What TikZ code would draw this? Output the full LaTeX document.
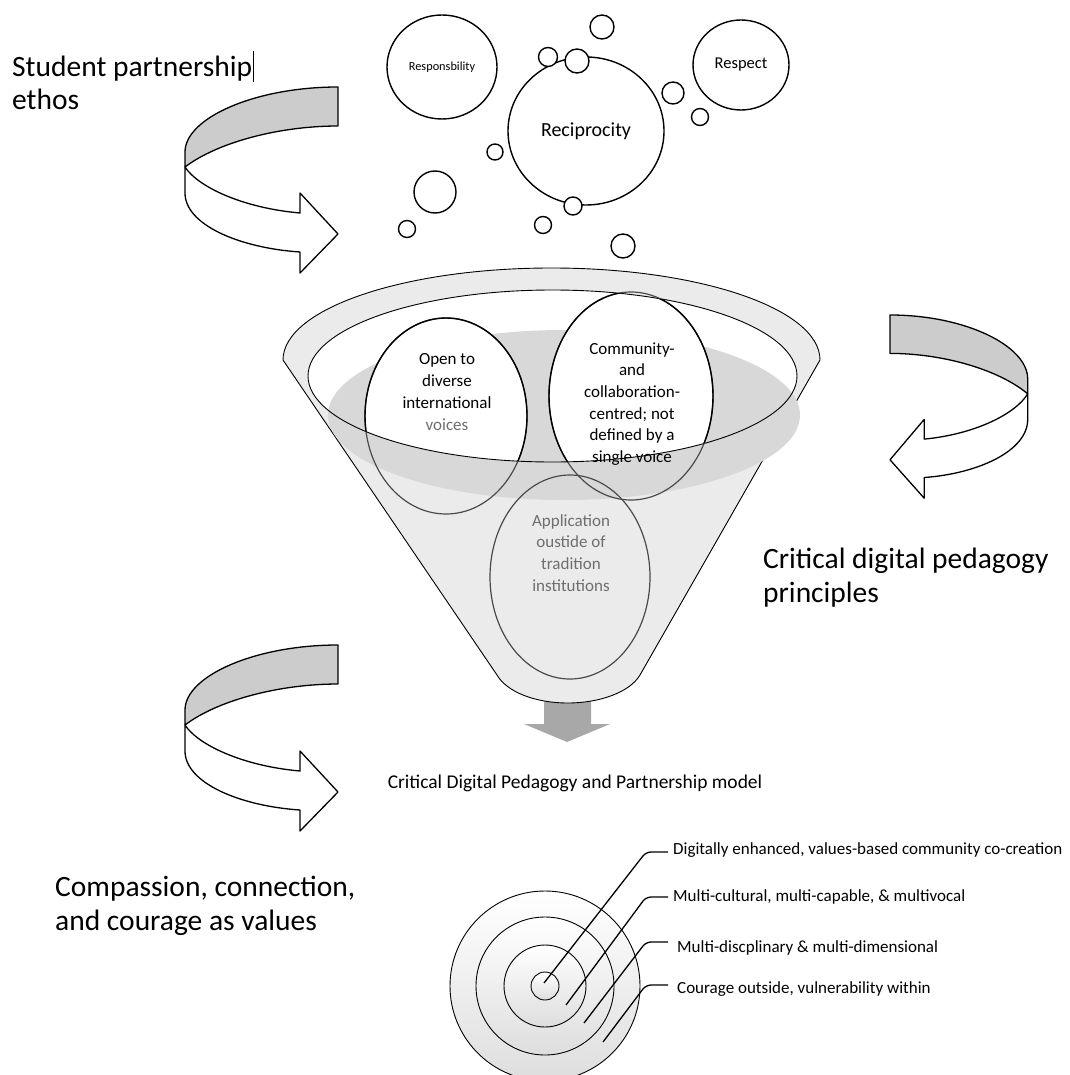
\documentclass[tikz,border=0pt]{standalone}
\usepackage{fontspec}
\setmainfont{Carlito}
\usetikzlibrary{calc,shapes.geometric}
\definecolor{conegray}{HTML}{EBEBEB}
\definecolor{darkell}{HTML}{D8D8D8}
\definecolor{ribbongray}{HTML}{CCCCCC}
\definecolor{arrowgray}{HTML}{A8A8A8}
\definecolor{txtgray}{HTML}{6E6E6E}
\definecolor{linegray}{HTML}{4A4A4A}
\begin{document}
\begin{tikzpicture}[x=1pt,y=-1pt,line join=round,
  bigtext/.style={anchor=base west,align=left,inner sep=0pt,font=\fontsize{29.5}{33.5}\selectfont},
  bub/.style={ellipse,draw,line width=1.4pt,fill=white,inner sep=0pt},
  sbub/.style={circle,draw,line width=1.4pt,fill=white,inner sep=0pt},
  lbl/.style={anchor=west,inner sep=0pt,font=\fontsize{17}{19}\selectfont},
  leader/.style={line width=1.3pt,rounded corners=5pt},
  ctext/.style={align=center,inner sep=0pt,font=\fontsize{17}{21.7}\selectfont},
  ring/.style={circle,draw,line width=0.9pt,inner sep=0pt,top color=white,bottom color=black!13},
  ribbon/.pic={
    \draw[fill=ribbongray,line width=1.3pt] (0,0) .. controls (-83,0) and (-153,31) .. (-153,65)
      -- (-153,80) .. controls (-120,55) and (-58,39) .. (0,39) -- cycle;
    \draw[fill=white,line width=1.3pt] (-153,80) -- (-153,106)
      .. controls (-153,138) and (-98,161) .. (-38,165) -- (-38,186) -- (0,147) -- (-38,106) -- (-38,126)
      .. controls (-95,121) and (-140,100) .. (-153,80) -- cycle;
  }]
\useasboundingbox (0,0) rectangle (1069,1075);
\clip (0,0) rectangle (1069,1075);

% ribbon arrows
\begin{scope}[shift={(338,87)}] \pic[transform shape] {ribbon}; \end{scope}
\begin{scope}[shift={(890,315)},xscale=-0.9,yscale=0.985] \pic[transform shape] {ribbon}; \end{scope}
\begin{scope}[shift={(338,645)}] \pic[transform shape] {ribbon}; \end{scope}

% side texts (anchor = baseline of last line)
\node[bigtext] (t1) at (12,110) {Student partnership\kern0.5pt\rule[-6pt]{1.4pt}{31pt}\\ethos};
\node[bigtext] (t2) at (763,602) {Critical digital pedagogy\\principles};
\node[bigtext] (t3) at (55,930) {Compassion, connection,\\and courage as values};

% output arrow
\fill[arrowgray] (544,698) -- (591,698) -- (591,724) -- (610,724) -- (567,742) -- (524,724) -- (544,724) -- cycle;

% funnel body
\draw[fill=conegray,line width=0.9pt] (283,360) -- (497,675)
  .. controls (507,692) and (535,703) .. (568,703)
  .. controls (600,703) and (630,692) .. (640,675) -- (820,360)
  .. controls (820,309) and (700,268) .. (551.5,268)
  .. controls (403,268) and (283,309) .. (283,360) -- cycle;
% inner opening
\fill[white] (552.5,376) ellipse [x radius=244.5,y radius=86];
\fill[darkell] (564,415) ellipse [x radius=236,y radius=85];
\begin{scope}
  \clip (552.5,376) ellipse [x radius=244.5,y radius=86];
  \fill[white] (446,416) ellipse [x radius=81,y radius=98];
  \fill[white] (631,396) ellipse [x radius=82,y radius=104];
\end{scope}
\draw[line width=0.9pt] (552.5,376) ellipse [x radius=244.5,y radius=86];
% circle outlines
\draw[linegray,line width=1.2pt] (446,416) ellipse [x radius=81,y radius=98];
\draw[linegray,line width=1.2pt] (631,396) ellipse [x radius=82,y radius=104];
\begin{scope}
  \clip (552.5,376) ellipse [x radius=244.5,y radius=86];
  \draw[black,line width=1.4pt] (446,416) ellipse [x radius=81,y radius=98];
  \draw[black,line width=1.4pt] (631,396) ellipse [x radius=82,y radius=104];
\end{scope}
\draw[linegray,line width=1.2pt] (570,577) ellipse [x radius=80,y radius=102];

\node[ctext] (c1) at (447,392) {Open to\\diverse\\international\\\textcolor{txtgray}{voices}};
\node[ctext] (c2) at (632,404) {Community-\\and\\collaboration-\\centred; not\\defined by a\\single voice};
\node[ctext,text=txtgray] (c3) at (571,553) {Application\\oustide of\\tradition\\institutions};

\node[font=\fontsize{19.5}{22}\selectfont] (model) at (575,783) {Critical Digital Pedagogy and Partnership model};

% top bubbles
\node[bub,minimum width=110pt,minimum height=104pt,font=\fontsize{12.3}{14}\selectfont] (resp) at (442,67) {Responsbility};
\node[bub,minimum width=156pt,minimum height=148pt,font=\fontsize{20}{23}\selectfont] (recip) at (586,131) {Reciprocity};
\node[bub,minimum width=96pt,minimum height=90pt,font=\fontsize{16.5}{19}\selectfont] (respect) at (741,65) {Respect};
\node[sbub,minimum size=24pt] (s1) at (602,27) {};
\node[sbub,minimum size=19pt] (s2) at (548,57) {};
\node[sbub,minimum size=24pt] (s3) at (577,61) {};
\node[sbub,minimum size=22pt] (s4) at (673,93) {};
\node[sbub,minimum size=17pt] (s5) at (700,117) {};
\node[sbub,minimum size=16pt] (s6) at (495,152) {};
\node[sbub,minimum size=42pt] (s7) at (435,192) {};
\node[sbub,minimum size=17pt] (s8) at (407,229) {};
\node[sbub,minimum size=18pt] (s9) at (573,206) {};
\node[sbub,minimum size=17pt] (s10) at (543,225) {};
\node[sbub,minimum size=24pt] (s11) at (623,246) {};

% target
\node[ring,minimum size=190pt] (r4) at (545,986) {};
\node[ring,minimum size=138pt] (r3) at (545,986) {};
\node[ring,minimum size=82pt] (r2) at (545,986) {};
\node[ring,minimum size=28pt] (r1) at (545,986) {};
\coordinate (p1) at (544,983);
\coordinate (p2) at (566,1005);
\coordinate (p3) at (584,1023);
\coordinate (p4) at (603,1042);

\node[lbl] (l1) at (673,850) {Digitally enhanced, values-based community co-creation};
\node[lbl] (l2) at (673,897) {Multi-cultural, multi-capable, \& multivocal};
\node[lbl] (l3) at (677,948) {Multi-discplinary \& multi-dimensional};
\node[lbl] (l4) at (677,989) {Courage outside, vulnerability within};

\draw[leader] ([xshift=-5pt,yshift=-2pt]l1.west) -- ++(-22,0) -- (p1);
\draw[leader] ([xshift=-5pt]l2.west) -- ++(-22,0) -- (p2);
\draw[leader] ([xshift=-9pt,yshift=6pt]l3.west) -- ++(-22,0) -- (p3);
\draw[leader] ([xshift=-9pt,yshift=4pt]l4.west) -- ++(-22,0) -- (p4);
\end{tikzpicture}
\end{document}
